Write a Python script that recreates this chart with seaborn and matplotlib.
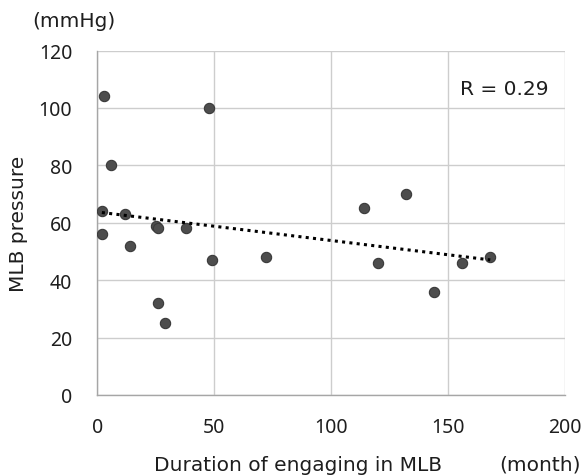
import numpy as np
import pandas as pd
import matplotlib
matplotlib.use("Agg")
import matplotlib.pyplot as plt
import seaborn as sns

duration = [3, 48, 6, 2, 12, 25, 26, 38, 2, 14, 49, 72, 26, 29, 114, 132, 120, 156, 168, 144]
pressure = [104, 100, 80, 64, 63, 59, 58, 58, 56, 52, 47, 48, 32, 25, 65, 70, 46, 46, 48, 36]
x_ticks = [0, 50, 100, 150, 200]
y_ticks = [0, 20, 40, 60, 80, 100, 120]

df = pd.DataFrame({"duration": duration, "pressure": pressure})

sns.set_style("white")
plt.rcParams['font.family'] = ['DejaVu Sans']

FS = 14.5
TXT = "#1e1e1e"

fig = plt.figure(figsize=(5.82, 4.77), dpi=100)
ax = fig.add_axes([0.167, 0.170, 0.804, 0.722])

sns.scatterplot(data=df, x="duration", y="pressure", ax=ax, s=55,
                color="#4d4d4d", edgecolor="#3a3a3a", linewidth=0.8, zorder=3)

coef = np.polyfit(df["duration"], df["pressure"], 1)
xs = np.array([df["duration"].min(), df["duration"].max()])
ax.plot(xs, np.polyval(coef, xs), linestyle=(0, (1, 1.4)), color="black",
        linewidth=2.2, zorder=4)

ax.set_xlim(0, 200)
ax.set_ylim(0, 120)
ax.set_xticks(x_ticks)
ax.set_yticks(y_ticks)
ax.grid(True, color="#cdcdcd", linewidth=1.0)
ax.set_axisbelow(True)
for side in ["top", "right"]:
    ax.spines[side].set_visible(False)
for side in ["left", "bottom"]:
    ax.spines[side].set_color("#a6a6a6")
    ax.spines[side].set_linewidth(1.0)
ax.tick_params(axis="both", length=0, labelsize=14, colors=TXT)
ax.tick_params(axis="y", pad=18)
ax.tick_params(axis="x", pad=16)
for lab in ax.get_xticklabels() + ax.get_yticklabels():
    lab.set_family(["Noto Sans", "DejaVu Sans"])

ax.set_xlabel("")
ax.set_ylabel("")
fig.text(0.031, 0.530, "MLB pressure", ha="center", va="center", rotation=90,
         fontsize=FS, color=TXT)
fig.text(0.512, 0.025, "Duration of engaging in MLB", ha="center", va="center",
         fontsize=FS, color=TXT)
fig.text(0.997, 0.025, "(month)", ha="right", va="center", fontsize=FS, color=TXT)
fig.text(0.127, 0.955, "(mmHg)", ha="center", va="center", fontsize=FS, color=TXT)
ax.text(174, 106.7, "R = 0.29", ha="center", va="center", fontsize=FS, color=TXT,
        bbox=dict(facecolor="white", edgecolor="none", pad=2), zorder=5)

fig.savefig("out.png", dpi=100)
